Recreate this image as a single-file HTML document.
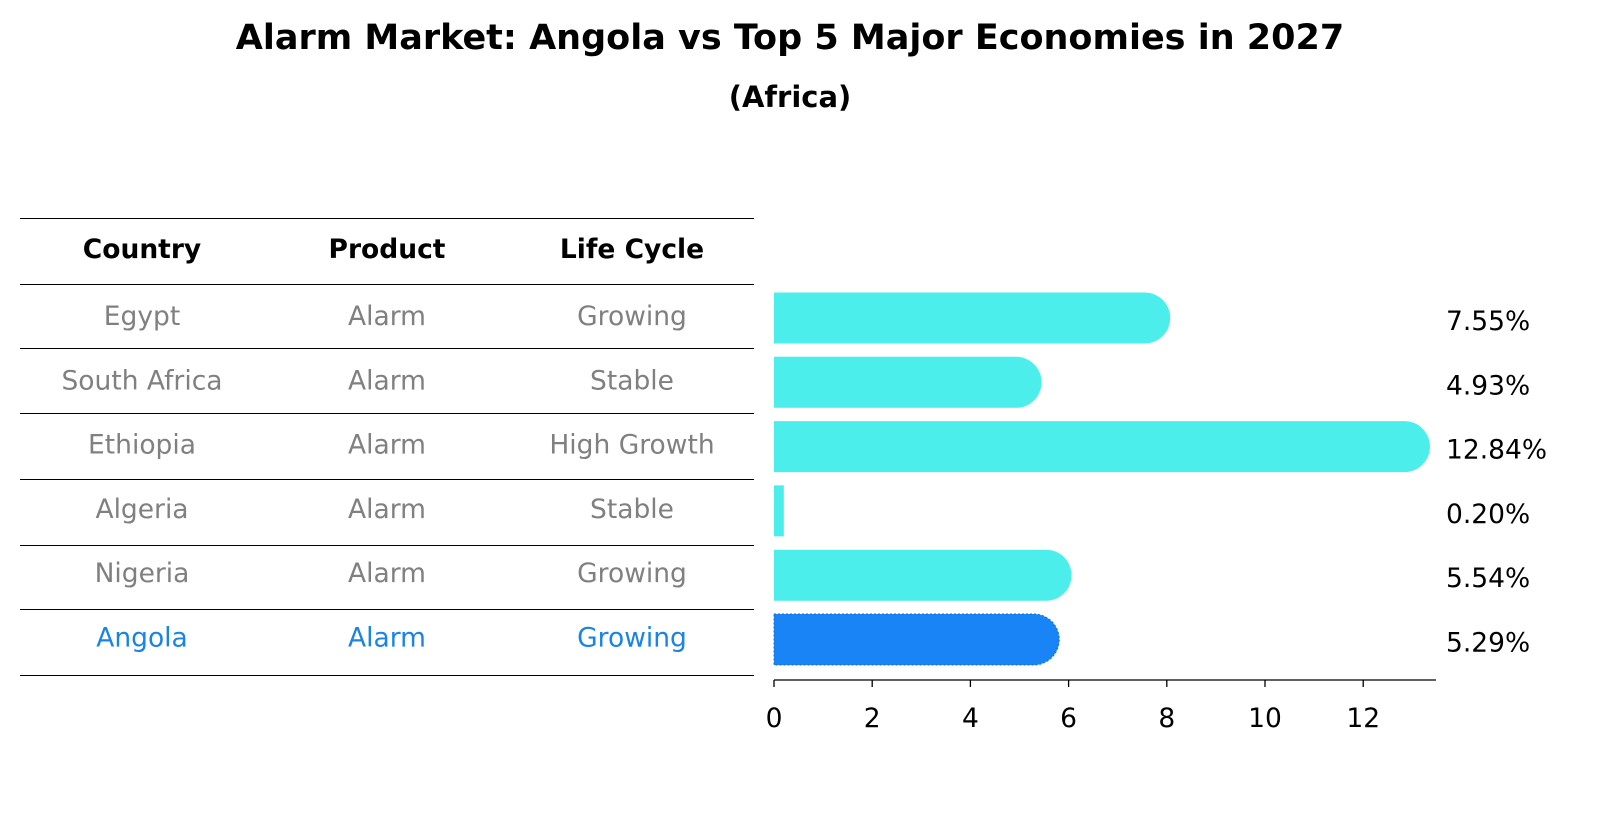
<!DOCTYPE html>
<html><head><meta charset="utf-8"><style>
body{margin:0;background:#fff;font-family:"Liberation Sans","DejaVu Sans",sans-serif;}
svg text{font-family:"DejaVu Sans","Liberation Sans",sans-serif;}
</style></head><body>
<svg id="chart" width="1604" height="823" viewBox="0 0 1604 823" xmlns="http://www.w3.org/2000/svg">
<text x="790" y="49" text-anchor="middle" font-size="35" font-weight="bold">Alarm Market: Angola vs Top 5 Major Economies in 2027</text>
<text x="790" y="107" text-anchor="middle" font-size="29" font-weight="bold">(Africa)</text>
<g id="table"></g>
<g id="bars"></g>
<g id="axis"></g>
</svg>
<script>
const countries=["Egypt","South Africa","Ethiopia","Algeria","Nigeria","Angola"];
const products=["Alarm","Alarm","Alarm","Alarm","Alarm","Alarm"];
const lifeCycles=["Growing","Stable","High Growth","Stable","Growing","Growing"];
const values=[7.55,4.93,12.84,0.20,5.54,5.29];
const ticks=[0,2,4,6,8,10,12];
const NS="http://www.w3.org/2000/svg";
const x0=774, ppu=49.1;
const xs=v=>x0+v*ppu;
const rowY=i=>318+i*64.3;
const FS=26.5;
function mk(tag,attrs,parent){const e=document.createElementNS(NS,tag);for(const k in attrs)e.setAttribute(k,attrs[k]);parent.appendChild(e);return e;}
const table=document.getElementById('table'),bars=document.getElementById('bars'),axis=document.getElementById('axis');
const lines=[218,284,348,413,479,545,609,675];
lines.forEach(y=>{const l=mk('line',{x1:20,x2:754,y1:y+0.5,y2:y+0.5,stroke:'#000','stroke-width':1},table);

});
const colX=[142,387,632];
["Country","Product","Life Cycle"].forEach((h,j)=>{const t=mk('text',{x:colX[j],y:258,'text-anchor':'middle','font-size':FS,'font-weight':'bold'},table);t.textContent=h;

});
countries.forEach((c,i)=>{
 const y=rowY(i)+7;const last=i===countries.length-1;const col=last?'#1a84e6':'#808080';
 [c,products[i],lifeCycles[i]].forEach((s,j)=>{const t=mk('text',{x:colX[j],y:y,'text-anchor':'middle','font-size':FS,fill:col},table);t.textContent=s;
 
 });
 const h=51,top=rowY(i)-h/2,r=h/2,xe=xs(values[i]);
 const fill=last?'#1984f5':'#4beeea';
 let d;
 if(values[i]<0.5){d=`M${x0},${top}H${xe}V${top+h}H${x0}Z`;}
 else d=`M${x0},${top}H${xe}A${r},${r} 0 0 1 ${xe},${top+h}H${x0}Z`;
 const p=mk('path',{d:d,fill:fill},bars);
 if(last){p.setAttribute('stroke','#1570d0');p.setAttribute('stroke-dasharray','2,2');p.setAttribute('stroke-width','1');}
 
 
 const t=mk('text',{x:1446,y:rowY(i)+12,'font-size':FS,fill:'#000'},bars);t.textContent=values[i].toFixed(2)+'%';
 
 
});
const al=mk('line',{x1:x0,x2:1436,y1:680,y2:680,stroke:'#000','stroke-width':1.3},axis);


ticks.forEach(v=>{const l=mk('line',{x1:xs(v),x2:xs(v),y1:680,y2:687,stroke:'#000','stroke-width':1.3},axis);


const t=mk('text',{x:xs(v),y:727,'text-anchor':'middle','font-size':FS},axis);t.textContent=v;

});
</script>
</body></html>
